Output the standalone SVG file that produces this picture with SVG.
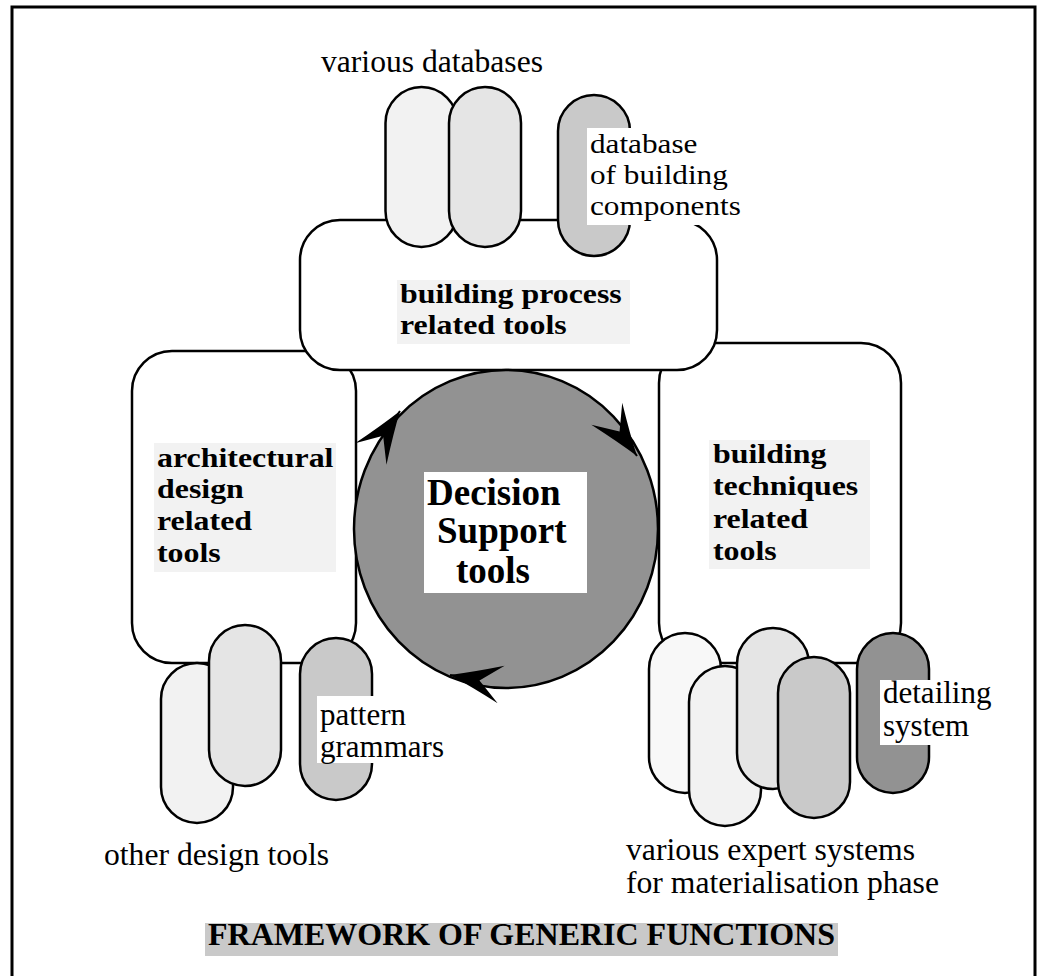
<svg xmlns="http://www.w3.org/2000/svg" width="1037" height="976" viewBox="0 0 1037 976">
  <style>
    .frame { fill: none; stroke: #000; stroke-width: 3; }
    .box { fill: #fff; stroke: #000; stroke-width: 2.5; }
    .cap { stroke: #000; stroke-width: 2.5; }
    .c1 { fill: #f8f8f8; }
    .c2 { fill: #f2f2f2; }
    .c3 { fill: #e5e5e5; }
    .c4 { fill: #c9c9c9; }
    .c5 { fill: #929292; }
    .hub { fill: #929292; stroke: #000; stroke-width: 2.5; }
    .lblbg { fill: #f2f2f2; }
    .white { fill: #fff; }
    .title-bg { fill: #c9c9c9; }
    .t { font-family: "Liberation Serif", "Times New Roman", serif; font-size: 31px; fill: #000; }
    .tn { font-family: "Liberation Serif", "Times New Roman", serif; font-size: 27.5px; fill: #000; }
    .b { font-family: "Liberation Serif", "Times New Roman", serif; font-size: 27.5px; font-weight: bold; fill: #000; }
    .hd { font-family: "Liberation Serif", "Times New Roman", serif; font-size: 32px; font-weight: bold; fill: #000; }
    .big { font-family: "Liberation Serif", "Times New Roman", serif; font-size: 37px; font-weight: bold; fill: #000; }
    .flow { fill: none; stroke: #000; stroke-width: 2; marker-end: url(#barb); }
  </style>
  <defs>
    <marker id="barb" markerUnits="userSpaceOnUse" viewBox="-56 -22 60 44" refX="0" refY="0" markerWidth="60" markerHeight="44" orient="auto" overflow="visible">
      <path d="M0,0 Q-22,-7 -52,-19 L-30,0 L-52,19 Q-22,7 0,0 Z" fill="#000"/>
    </marker>
  </defs>

  <rect class="frame" x="12" y="7" width="1023" height="985"/>

  <!-- side boxes under the central one -->
  <g id="architectural-design">
    <rect class="box" x="132" y="351" width="224" height="312" rx="40"/>
  </g>
  <g id="building-techniques">
    <rect class="box" x="659" y="343" width="242" height="320" rx="40"/>
  </g>
  <g id="building-process">
    <rect class="box" x="300" y="220" width="417" height="150" rx="40"/>
  </g>

  <!-- central hub -->
  <g id="decision-support">
    <ellipse class="hub" cx="506" cy="529" rx="152" ry="159"/>
    <rect class="white" x="424" y="472" width="163" height="121"/>
    <text class="big" x="427" y="505">Decision</text>
    <text class="big" x="437" y="543">Support</text>
    <text class="big" x="456" y="583">tools</text>
  </g>

  <!-- circulation around the hub -->
  <g id="connectors">
    <path class="flow" d="M396.6,416 L400,411"/>
    <path class="flow" d="M633.5,451.1 L637,456"/>
    <path class="flow" d="M455.9,676.1 L450,675"/>
  </g>

  <!-- databases -->
  <g id="various-databases">
    <rect class="cap c2" x="385.5" y="87" width="72" height="160" rx="36"/>
    <rect class="cap c3" x="449" y="87" width="72" height="160" rx="36"/>
    <text class="t" x="321" y="72" textLength="222" lengthAdjust="spacingAndGlyphs">various databases</text>
  </g>
  <g id="building-components-db">
    <rect class="cap c4" x="558" y="95" width="72" height="161" rx="36"/>
    <rect class="white" x="587" y="128" width="158" height="97"/>
    <g transform="translate(590 0) scale(1.135 1)">
      <text class="tn" x="0" y="153">database</text>
      <text class="tn" x="0" y="184">of building</text>
      <text class="tn" x="0" y="215">components</text>
    </g>
  </g>

  <!-- design tools -->
  <g id="other-design-tools">
    <rect class="cap c2" x="161" y="663" width="72" height="160" rx="36"/>
    <rect class="cap c3" x="209" y="625" width="72" height="161" rx="36"/>
    <text class="t" x="104" y="865" textLength="225" lengthAdjust="spacingAndGlyphs">other design tools</text>
  </g>
  <g id="pattern-grammars">
    <rect class="cap c4" x="300" y="638" width="72" height="162" rx="36"/>
    <rect class="white" x="317" y="696" width="130" height="67"/>
    <text class="t" x="320" y="725">pattern</text>
    <text class="t" x="320" y="757">grammars</text>
  </g>

  <!-- expert systems -->
  <g id="expert-systems">
    <rect class="cap c1" x="649" y="633" width="72" height="160" rx="36"/>
    <rect class="cap c2" x="689" y="666" width="72" height="160" rx="36"/>
    <rect class="cap c3" x="737" y="628" width="72" height="161" rx="36"/>
    <rect class="cap c4" x="778" y="657" width="72" height="161" rx="36"/>
    <text class="t" x="626" y="860" textLength="289" lengthAdjust="spacingAndGlyphs">various expert systems</text>
    <text class="t" x="626" y="893" textLength="313" lengthAdjust="spacingAndGlyphs">for materialisation phase</text>
  </g>
  <g id="detailing-system">
    <rect class="cap c5" x="857" y="633" width="72" height="160" rx="36"/>
    <rect class="white" x="880" y="680" width="115" height="65"/>
    <text class="t" x="883" y="703">detailing</text>
    <text class="t" x="883" y="736">system</text>
  </g>

  <!-- box labels -->
  <g id="labels">
    <rect class="lblbg" x="397" y="280" width="233" height="64"/>
    <g transform="translate(400 0) scale(1.16 1)">
      <text class="b" x="0" y="303">building process</text>
      <text class="b" x="0" y="334">related tools</text>
    </g>

    <rect class="lblbg" x="154" y="443" width="182" height="129"/>
    <g transform="translate(157 0) scale(1.16 1)">
      <text class="b" x="0" y="467">architectural</text>
      <text class="b" x="0" y="498">design</text>
      <text class="b" x="0" y="530">related</text>
      <text class="b" x="0" y="562">tools</text>
    </g>

    <rect class="lblbg" x="709" y="440" width="161" height="129"/>
    <g transform="translate(713 0) scale(1.16 1)">
      <text class="b" x="0" y="463">building</text>
      <text class="b" x="0" y="495">techniques</text>
      <text class="b" x="0" y="528">related</text>
      <text class="b" x="0" y="560">tools</text>
    </g>
  </g>

  <g id="title">
    <rect class="title-bg" x="205" y="923" width="633" height="33"/>
    <text class="hd" x="208" y="945" textLength="627" lengthAdjust="spacingAndGlyphs">FRAMEWORK OF GENERIC FUNCTIONS</text>
  </g>
</svg>
